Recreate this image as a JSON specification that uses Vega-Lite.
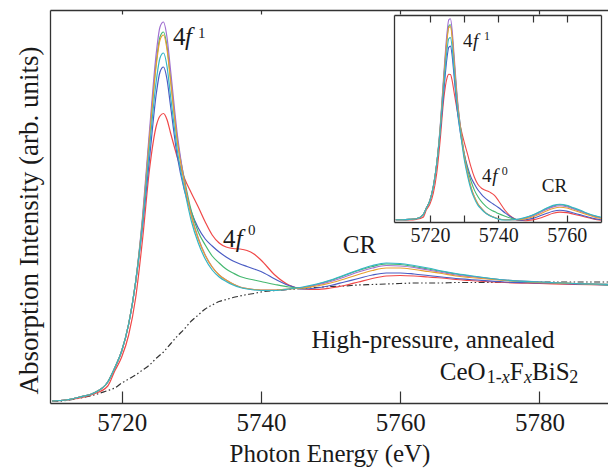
{
"$schema": "https://vega.github.io/schema/vega-lite/v6.json",
"width": 559, "height": 393,
"autosize": "none",
"padding": {"left": 50, "top": 10, "right": 0, "bottom": 65},
"background": "white",
"config": {
  "view": {"stroke": null},
  "font": "Liberation Serif",
  "axis": {"grid": false, "domainColor": "#333333", "domainWidth": 1.3, "tickColor": "#333333", "tickWidth": 1.2, "labelFont": "Liberation Serif", "titleFont": "Liberation Serif", "labelColor": "#1a1a1a", "titleColor": "#1a1a1a", "titleFontWeight": "normal", "labelFlush": false, "labelOverlap": false}
},
"datasets": {
"main": [
{"E":5710,"I":0.02,"s":"s6"},{"E":5712,"I":0.03,"s":"s6"},{"E":5714,"I":0.05,"s":"s6"},{"E":5716,"I":0.09,"s":"s6"},{"E":5718,"I":0.17,"s":"s6"},{"E":5719,"I":0.32,"s":"s6"},{"E":5720,"I":0.46,"s":"s6"},{"E":5721,"I":0.68,"s":"s6"},{"E":5722,"I":1.05,"s":"s6"},{"E":5723,"I":1.64,"s":"s6"},{"E":5724,"I":2.34,"s":"s6"},{"E":5725,"I":2.78,"s":"s6"},{"E":5725.5,"I":2.87,"s":"s6"},{"E":5726,"I":2.895,"s":"s6"},{"E":5726.5,"I":2.835,"s":"s6"},{"E":5727,"I":2.705,"s":"s6"},{"E":5728,"I":2.455,"s":"s6"},{"E":5729,"I":2.25,"s":"s6"},{"E":5730,"I":2.10,"s":"s6"},{"E":5731,"I":1.96,"s":"s6"},{"E":5732,"I":1.81,"s":"s6"},{"E":5733,"I":1.68,"s":"s6"},{"E":5734,"I":1.60,"s":"s6"},{"E":5735,"I":1.56,"s":"s6"},{"E":5736,"I":1.545,"s":"s6"},{"E":5737,"I":1.54,"s":"s6"},{"E":5738,"I":1.525,"s":"s6"},{"E":5739,"I":1.49,"s":"s6"},{"E":5740,"I":1.43,"s":"s6"},{"E":5742,"I":1.28,"s":"s6"},{"E":5744,"I":1.18,"s":"s6"},{"E":5746,"I":1.14,"s":"s6"},{"E":5748,"I":1.135,"s":"s6"},{"E":5750,"I":1.15,"s":"s6"},{"E":5752,"I":1.175,"s":"s6"},{"E":5754,"I":1.21,"s":"s6"},{"E":5756,"I":1.245,"s":"s6"},{"E":5758,"I":1.27,"s":"s6"},{"E":5760,"I":1.275,"s":"s6"},{"E":5762,"I":1.27,"s":"s6"},{"E":5764,"I":1.26,"s":"s6"},{"E":5766,"I":1.25,"s":"s6"},{"E":5768,"I":1.235,"s":"s6"},{"E":5770,"I":1.225,"s":"s6"},{"E":5775,"I":1.205,"s":"s6"},{"E":5780,"I":1.195,"s":"s6"},{"E":5785,"I":1.185,"s":"s6"},{"E":5790,"I":1.18,"s":"s6"},
{"E":5710,"I":0.02,"s":"s5"},{"E":5712,"I":0.03,"s":"s5"},{"E":5714,"I":0.06,"s":"s5"},{"E":5716,"I":0.10,"s":"s5"},{"E":5718,"I":0.21,"s":"s5"},{"E":5719,"I":0.35,"s":"s5"},{"E":5720,"I":0.52,"s":"s5"},{"E":5721,"I":0.79,"s":"s5"},{"E":5722,"I":1.21,"s":"s5"},{"E":5723,"I":1.77,"s":"s5"},{"E":5724,"I":2.45,"s":"s5"},{"E":5725,"I":3.11,"s":"s5"},{"E":5725.5,"I":3.31,"s":"s5"},{"E":5726,"I":3.36,"s":"s5"},{"E":5726.5,"I":3.24,"s":"s5"},{"E":5727,"I":2.98,"s":"s5"},{"E":5728,"I":2.46,"s":"s5"},{"E":5729,"I":2.13,"s":"s5"},{"E":5730,"I":1.91,"s":"s5"},{"E":5731,"I":1.75,"s":"s5"},{"E":5732,"I":1.64,"s":"s5"},{"E":5733,"I":1.57,"s":"s5"},{"E":5734,"I":1.51,"s":"s5"},{"E":5735,"I":1.46,"s":"s5"},{"E":5736,"I":1.42,"s":"s5"},{"E":5737,"I":1.39,"s":"s5"},{"E":5738,"I":1.365,"s":"s5"},{"E":5739,"I":1.34,"s":"s5"},{"E":5740,"I":1.315,"s":"s5"},{"E":5742,"I":1.24,"s":"s5"},{"E":5744,"I":1.175,"s":"s5"},{"E":5746,"I":1.14,"s":"s5"},{"E":5748,"I":1.15,"s":"s5"},{"E":5750,"I":1.175,"s":"s5"},{"E":5752,"I":1.21,"s":"s5"},{"E":5754,"I":1.245,"s":"s5"},{"E":5756,"I":1.28,"s":"s5"},{"E":5758,"I":1.30,"s":"s5"},{"E":5760,"I":1.30,"s":"s5"},{"E":5762,"I":1.29,"s":"s5"},{"E":5764,"I":1.275,"s":"s5"},{"E":5766,"I":1.26,"s":"s5"},{"E":5768,"I":1.245,"s":"s5"},{"E":5770,"I":1.235,"s":"s5"},{"E":5775,"I":1.21,"s":"s5"},{"E":5780,"I":1.20,"s":"s5"},{"E":5785,"I":1.19,"s":"s5"},{"E":5790,"I":1.18,"s":"s5"},
{"E":5710,"I":0.02,"s":"s3"},{"E":5712,"I":0.03,"s":"s3"},{"E":5714,"I":0.06,"s":"s3"},{"E":5716,"I":0.10,"s":"s3"},{"E":5718,"I":0.21,"s":"s3"},{"E":5719,"I":0.35,"s":"s3"},{"E":5720,"I":0.52,"s":"s3"},{"E":5721,"I":0.79,"s":"s3"},{"E":5722,"I":1.21,"s":"s3"},{"E":5723,"I":1.84,"s":"s3"},{"E":5724,"I":2.67,"s":"s3"},{"E":5725,"I":3.43,"s":"s3"},{"E":5725.5,"I":3.66,"s":"s3"},{"E":5726,"I":3.71,"s":"s3"},{"E":5726.5,"I":3.57,"s":"s3"},{"E":5727,"I":3.26,"s":"s3"},{"E":5728,"I":2.63,"s":"s3"},{"E":5729,"I":2.24,"s":"s3"},{"E":5730,"I":1.92,"s":"s3"},{"E":5731,"I":1.71,"s":"s3"},{"E":5732,"I":1.58,"s":"s3"},{"E":5733,"I":1.47,"s":"s3"},{"E":5734,"I":1.40,"s":"s3"},{"E":5735,"I":1.34,"s":"s3"},{"E":5736,"I":1.30,"s":"s3"},{"E":5737,"I":1.265,"s":"s3"},{"E":5738,"I":1.245,"s":"s3"},{"E":5739,"I":1.23,"s":"s3"},{"E":5740,"I":1.215,"s":"s3"},{"E":5742,"I":1.185,"s":"s3"},{"E":5744,"I":1.16,"s":"s3"},{"E":5746,"I":1.15,"s":"s3"},{"E":5748,"I":1.185,"s":"s3"},{"E":5750,"I":1.225,"s":"s3"},{"E":5752,"I":1.275,"s":"s3"},{"E":5754,"I":1.325,"s":"s3"},{"E":5756,"I":1.365,"s":"s3"},{"E":5758,"I":1.39,"s":"s3"},{"E":5760,"I":1.385,"s":"s3"},{"E":5762,"I":1.365,"s":"s3"},{"E":5764,"I":1.34,"s":"s3"},{"E":5766,"I":1.315,"s":"s3"},{"E":5768,"I":1.29,"s":"s3"},{"E":5770,"I":1.27,"s":"s3"},{"E":5775,"I":1.23,"s":"s3"},{"E":5780,"I":1.21,"s":"s3"},{"E":5785,"I":1.195,"s":"s3"},{"E":5790,"I":1.18,"s":"s3"},
{"E":5710,"I":0.02,"s":"s1"},{"E":5712,"I":0.03,"s":"s1"},{"E":5714,"I":0.06,"s":"s1"},{"E":5716,"I":0.10,"s":"s1"},{"E":5718,"I":0.21,"s":"s1"},{"E":5719,"I":0.35,"s":"s1"},{"E":5720,"I":0.52,"s":"s1"},{"E":5721,"I":0.79,"s":"s1"},{"E":5722,"I":1.21,"s":"s1"},{"E":5723,"I":1.87,"s":"s1"},{"E":5724,"I":2.73,"s":"s1"},{"E":5725,"I":3.52,"s":"s1"},{"E":5725.5,"I":3.76,"s":"s1"},{"E":5726,"I":3.81,"s":"s1"},{"E":5726.5,"I":3.66,"s":"s1"},{"E":5727,"I":3.34,"s":"s1"},{"E":5728,"I":2.68,"s":"s1"},{"E":5729,"I":2.22,"s":"s1"},{"E":5730,"I":1.88,"s":"s1"},{"E":5731,"I":1.65,"s":"s1"},{"E":5732,"I":1.48,"s":"s1"},{"E":5733,"I":1.36,"s":"s1"},{"E":5734,"I":1.28,"s":"s1"},{"E":5735,"I":1.23,"s":"s1"},{"E":5736,"I":1.19,"s":"s1"},{"E":5737,"I":1.16,"s":"s1"},{"E":5738,"I":1.145,"s":"s1"},{"E":5739,"I":1.135,"s":"s1"},{"E":5740,"I":1.13,"s":"s1"},{"E":5742,"I":1.13,"s":"s1"},{"E":5744,"I":1.14,"s":"s1"},{"E":5746,"I":1.155,"s":"s1"},{"E":5748,"I":1.18,"s":"s1"},{"E":5750,"I":1.215,"s":"s1"},{"E":5752,"I":1.26,"s":"s1"},{"E":5754,"I":1.31,"s":"s1"},{"E":5756,"I":1.35,"s":"s1"},{"E":5758,"I":1.375,"s":"s1"},{"E":5760,"I":1.37,"s":"s1"},{"E":5762,"I":1.355,"s":"s1"},{"E":5764,"I":1.33,"s":"s1"},{"E":5766,"I":1.305,"s":"s1"},{"E":5768,"I":1.28,"s":"s1"},{"E":5770,"I":1.265,"s":"s1"},{"E":5775,"I":1.23,"s":"s1"},{"E":5780,"I":1.21,"s":"s1"},{"E":5785,"I":1.195,"s":"s1"},{"E":5790,"I":1.185,"s":"s1"},
{"E":5710,"I":0.02,"s":"s2"},{"E":5712,"I":0.03,"s":"s2"},{"E":5714,"I":0.06,"s":"s2"},{"E":5716,"I":0.10,"s":"s2"},{"E":5718,"I":0.21,"s":"s2"},{"E":5719,"I":0.35,"s":"s2"},{"E":5720,"I":0.52,"s":"s2"},{"E":5721,"I":0.79,"s":"s2"},{"E":5722,"I":1.21,"s":"s2"},{"E":5723,"I":1.83,"s":"s2"},{"E":5724,"I":2.65,"s":"s2"},{"E":5725,"I":3.40,"s":"s2"},{"E":5725.5,"I":3.63,"s":"s2"},{"E":5726,"I":3.68,"s":"s2"},{"E":5726.5,"I":3.54,"s":"s2"},{"E":5727,"I":3.23,"s":"s2"},{"E":5728,"I":2.61,"s":"s2"},{"E":5729,"I":2.20,"s":"s2"},{"E":5730,"I":1.87,"s":"s2"},{"E":5731,"I":1.64,"s":"s2"},{"E":5732,"I":1.475,"s":"s2"},{"E":5733,"I":1.36,"s":"s2"},{"E":5734,"I":1.28,"s":"s2"},{"E":5735,"I":1.23,"s":"s2"},{"E":5736,"I":1.19,"s":"s2"},{"E":5737,"I":1.16,"s":"s2"},{"E":5738,"I":1.145,"s":"s2"},{"E":5739,"I":1.135,"s":"s2"},{"E":5740,"I":1.13,"s":"s2"},{"E":5742,"I":1.13,"s":"s2"},{"E":5744,"I":1.14,"s":"s2"},{"E":5746,"I":1.15,"s":"s2"},{"E":5748,"I":1.17,"s":"s2"},{"E":5750,"I":1.20,"s":"s2"},{"E":5752,"I":1.24,"s":"s2"},{"E":5754,"I":1.285,"s":"s2"},{"E":5756,"I":1.325,"s":"s2"},{"E":5758,"I":1.35,"s":"s2"},{"E":5760,"I":1.35,"s":"s2"},{"E":5762,"I":1.335,"s":"s2"},{"E":5764,"I":1.315,"s":"s2"},{"E":5766,"I":1.295,"s":"s2"},{"E":5768,"I":1.27,"s":"s2"},{"E":5770,"I":1.255,"s":"s2"},{"E":5775,"I":1.225,"s":"s2"},{"E":5780,"I":1.205,"s":"s2"},{"E":5785,"I":1.195,"s":"s2"},{"E":5790,"I":1.185,"s":"s2"},
{"E":5710,"I":0.02,"s":"s4"},{"E":5712,"I":0.03,"s":"s4"},{"E":5714,"I":0.06,"s":"s4"},{"E":5716,"I":0.10,"s":"s4"},{"E":5718,"I":0.21,"s":"s4"},{"E":5719,"I":0.35,"s":"s4"},{"E":5720,"I":0.52,"s":"s4"},{"E":5721,"I":0.79,"s":"s4"},{"E":5722,"I":1.21,"s":"s4"},{"E":5723,"I":1.80,"s":"s4"},{"E":5724,"I":2.55,"s":"s4"},{"E":5725,"I":3.24,"s":"s4"},{"E":5725.5,"I":3.45,"s":"s4"},{"E":5726,"I":3.50,"s":"s4"},{"E":5726.5,"I":3.37,"s":"s4"},{"E":5727,"I":3.08,"s":"s4"},{"E":5728,"I":2.52,"s":"s4"},{"E":5729,"I":2.14,"s":"s4"},{"E":5730,"I":1.82,"s":"s4"},{"E":5731,"I":1.60,"s":"s4"},{"E":5732,"I":1.44,"s":"s4"},{"E":5733,"I":1.33,"s":"s4"},{"E":5734,"I":1.26,"s":"s4"},{"E":5735,"I":1.215,"s":"s4"},{"E":5736,"I":1.18,"s":"s4"},{"E":5737,"I":1.155,"s":"s4"},{"E":5738,"I":1.14,"s":"s4"},{"E":5739,"I":1.13,"s":"s4"},{"E":5740,"I":1.125,"s":"s4"},{"E":5742,"I":1.125,"s":"s4"},{"E":5744,"I":1.14,"s":"s4"},{"E":5746,"I":1.16,"s":"s4"},{"E":5748,"I":1.19,"s":"s4"},{"E":5750,"I":1.23,"s":"s4"},{"E":5752,"I":1.28,"s":"s4"},{"E":5754,"I":1.33,"s":"s4"},{"E":5756,"I":1.375,"s":"s4"},{"E":5758,"I":1.40,"s":"s4"},{"E":5760,"I":1.395,"s":"s4"},{"E":5762,"I":1.375,"s":"s4"},{"E":5764,"I":1.35,"s":"s4"},{"E":5766,"I":1.32,"s":"s4"},{"E":5768,"I":1.295,"s":"s4"},{"E":5770,"I":1.275,"s":"s4"},{"E":5775,"I":1.23,"s":"s4"},{"E":5780,"I":1.21,"s":"s4"},{"E":5785,"I":1.195,"s":"s4"},{"E":5790,"I":1.185,"s":"s4"}
],
"step": [
{"E":5710,"I":0.015},{"E":5712,"I":0.025},{"E":5714,"I":0.05},{"E":5716,"I":0.08},{"E":5718,"I":0.125},{"E":5719,"I":0.15},{"E":5720,"I":0.20},{"E":5721,"I":0.24},{"E":5722,"I":0.28},{"E":5723,"I":0.33},{"E":5724,"I":0.38},{"E":5725,"I":0.45},{"E":5725.5,"I":0.48},{"E":5726,"I":0.51},{"E":5726.5,"I":0.55},{"E":5727,"I":0.59},{"E":5728,"I":0.67},{"E":5729,"I":0.74},{"E":5730,"I":0.82},{"E":5731,"I":0.88},{"E":5732,"I":0.94},{"E":5733,"I":0.98},{"E":5734,"I":1.015},{"E":5735,"I":1.035},{"E":5736,"I":1.055},{"E":5737,"I":1.07},{"E":5738,"I":1.085},{"E":5739,"I":1.095},{"E":5740,"I":1.11},{"E":5742,"I":1.125},{"E":5744,"I":1.135},{"E":5746,"I":1.145},{"E":5748,"I":1.155},{"E":5750,"I":1.165},{"E":5752,"I":1.17},{"E":5754,"I":1.18},{"E":5756,"I":1.185},{"E":5758,"I":1.19},{"E":5760,"I":1.195},{"E":5762,"I":1.20},{"E":5764,"I":1.20},{"E":5766,"I":1.20},{"E":5768,"I":1.205},{"E":5770,"I":1.205},{"E":5775,"I":1.205},{"E":5780,"I":1.21},{"E":5785,"I":1.21},{"E":5790,"I":1.21}
],
"inset": [
{"E":5710,"V":0.003,"s":"s6"},{"E":5712,"V":0.003,"s":"s6"},{"E":5714,"V":0.0,"s":"s6"},{"E":5716,"V":0.006,"s":"s6"},{"E":5718,"V":0.027,"s":"s6"},{"E":5719,"V":0.104,"s":"s6"},{"E":5720,"V":0.159,"s":"s6"},{"E":5721,"V":0.268,"s":"s6"},{"E":5722,"V":0.47,"s":"s6"},{"E":5723,"V":0.799,"s":"s6"},{"E":5724,"V":1.196,"s":"s6"},{"E":5725,"V":1.421,"s":"s6"},{"E":5725.5,"V":1.458,"s":"s6"},{"E":5726,"V":1.455,"s":"s6"},{"E":5726.5,"V":1.394,"s":"s6"},{"E":5727,"V":1.29,"s":"s6"},{"E":5728,"V":1.089,"s":"s6"},{"E":5729,"V":0.921,"s":"s6"},{"E":5730,"V":0.781,"s":"s6"},{"E":5731,"V":0.659,"s":"s6"},{"E":5732,"V":0.531,"s":"s6"},{"E":5733,"V":0.427,"s":"s6"},{"E":5734,"V":0.357,"s":"s6"},{"E":5735,"V":0.32,"s":"s6"},{"E":5736,"V":0.299,"s":"s6"},{"E":5737,"V":0.287,"s":"s6"},{"E":5738,"V":0.268,"s":"s6"},{"E":5739,"V":0.241,"s":"s6"},{"E":5740,"V":0.195,"s":"s6"},{"E":5742,"V":0.095,"s":"s6"},{"E":5744,"V":0.027,"s":"s6"},{"E":5746,"V":-0.003,"s":"s6"},{"E":5748,"V":-0.007,"s":"s6"},{"E":5750,"V":0.001,"s":"s6"},{"E":5752,"V":0.018,"s":"s6"},{"E":5754,"V":0.043,"s":"s6"},{"E":5756,"V":0.067,"s":"s6"},{"E":5758,"V":0.079,"s":"s6"},{"E":5760,"V":0.074,"s":"s6"},{"E":5762,"V":0.058,"s":"s6"},{"E":5764,"V":0.042,"s":"s6"},{"E":5766,"V":0.025,"s":"s6"},{"E":5768,"V":0.008,"s":"s6"},{"E":5770,"V":-0.003,"s":"s6"},
{"E":5710,"V":0.003,"s":"s5"},{"E":5712,"V":0.003,"s":"s5"},{"E":5714,"V":0.006,"s":"s5"},{"E":5716,"V":0.012,"s":"s5"},{"E":5718,"V":0.052,"s":"s5"},{"E":5719,"V":0.122,"s":"s5"},{"E":5720,"V":0.195,"s":"s5"},{"E":5721,"V":0.336,"s":"s5"},{"E":5722,"V":0.567,"s":"s5"},{"E":5723,"V":0.878,"s":"s5"},{"E":5724,"V":1.263,"s":"s5"},{"E":5725,"V":1.623,"s":"s5"},{"E":5725.5,"V":1.726,"s":"s5"},{"E":5726,"V":1.739,"s":"s5"},{"E":5726.5,"V":1.641,"s":"s5"},{"E":5727,"V":1.458,"s":"s5"},{"E":5728,"V":1.092,"s":"s5"},{"E":5729,"V":0.848,"s":"s5"},{"E":5730,"V":0.665,"s":"s5"},{"E":5731,"V":0.531,"s":"s5"},{"E":5732,"V":0.427,"s":"s5"},{"E":5733,"V":0.36,"s":"s5"},{"E":5734,"V":0.302,"s":"s5"},{"E":5735,"V":0.259,"s":"s5"},{"E":5736,"V":0.223,"s":"s5"},{"E":5737,"V":0.195,"s":"s5"},{"E":5738,"V":0.171,"s":"s5"},{"E":5739,"V":0.149,"s":"s5"},{"E":5740,"V":0.125,"s":"s5"},{"E":5742,"V":0.07,"s":"s5"},{"E":5744,"V":0.024,"s":"s5"},{"E":5746,"V":-0.003,"s":"s5"},{"E":5748,"V":0.002,"s":"s5"},{"E":5750,"V":0.016,"s":"s5"},{"E":5752,"V":0.039,"s":"s5"},{"E":5754,"V":0.065,"s":"s5"},{"E":5756,"V":0.088,"s":"s5"},{"E":5758,"V":0.097,"s":"s5"},{"E":5760,"V":0.089,"s":"s5"},{"E":5762,"V":0.07,"s":"s5"},{"E":5764,"V":0.051,"s":"s5"},{"E":5766,"V":0.032,"s":"s5"},{"E":5768,"V":0.014,"s":"s5"},{"E":5770,"V":0.003,"s":"s5"},
{"E":5710,"V":0.003,"s":"s3"},{"E":5712,"V":0.003,"s":"s3"},{"E":5714,"V":0.006,"s":"s3"},{"E":5716,"V":0.012,"s":"s3"},{"E":5718,"V":0.052,"s":"s3"},{"E":5719,"V":0.122,"s":"s3"},{"E":5720,"V":0.195,"s":"s3"},{"E":5721,"V":0.336,"s":"s3"},{"E":5722,"V":0.567,"s":"s3"},{"E":5723,"V":0.921,"s":"s3"},{"E":5724,"V":1.397,"s":"s3"},{"E":5725,"V":1.818,"s":"s3"},{"E":5725.5,"V":1.94,"s":"s3"},{"E":5726,"V":1.952,"s":"s3"},{"E":5726.5,"V":1.842,"s":"s3"},{"E":5727,"V":1.629,"s":"s3"},{"E":5728,"V":1.196,"s":"s3"},{"E":5729,"V":0.915,"s":"s3"},{"E":5730,"V":0.671,"s":"s3"},{"E":5731,"V":0.506,"s":"s3"},{"E":5732,"V":0.39,"s":"s3"},{"E":5733,"V":0.299,"s":"s3"},{"E":5734,"V":0.235,"s":"s3"},{"E":5735,"V":0.186,"s":"s3"},{"E":5736,"V":0.149,"s":"s3"},{"E":5737,"V":0.119,"s":"s3"},{"E":5738,"V":0.098,"s":"s3"},{"E":5739,"V":0.082,"s":"s3"},{"E":5740,"V":0.064,"s":"s3"},{"E":5742,"V":0.037,"s":"s3"},{"E":5744,"V":0.015,"s":"s3"},{"E":5746,"V":0.003,"s":"s3"},{"E":5748,"V":0.023,"s":"s3"},{"E":5750,"V":0.047,"s":"s3"},{"E":5752,"V":0.079,"s":"s3"},{"E":5754,"V":0.113,"s":"s3"},{"E":5756,"V":0.14,"s":"s3"},{"E":5758,"V":0.152,"s":"s3"},{"E":5760,"V":0.141,"s":"s3"},{"E":5762,"V":0.116,"s":"s3"},{"E":5764,"V":0.09,"s":"s3"},{"E":5766,"V":0.065,"s":"s3"},{"E":5768,"V":0.042,"s":"s3"},{"E":5770,"V":0.025,"s":"s3"},
{"E":5710,"V":0.003,"s":"s1"},{"E":5712,"V":0.003,"s":"s1"},{"E":5714,"V":0.006,"s":"s1"},{"E":5716,"V":0.012,"s":"s1"},{"E":5718,"V":0.052,"s":"s1"},{"E":5719,"V":0.122,"s":"s1"},{"E":5720,"V":0.195,"s":"s1"},{"E":5721,"V":0.336,"s":"s1"},{"E":5722,"V":0.567,"s":"s1"},{"E":5723,"V":0.939,"s":"s1"},{"E":5724,"V":1.434,"s":"s1"},{"E":5725,"V":1.873,"s":"s1"},{"E":5725.5,"V":2.001,"s":"s1"},{"E":5726,"V":2.013,"s":"s1"},{"E":5726.5,"V":1.897,"s":"s1"},{"E":5727,"V":1.677,"s":"s1"},{"E":5728,"V":1.226,"s":"s1"},{"E":5729,"V":0.903,"s":"s1"},{"E":5730,"V":0.647,"s":"s1"},{"E":5731,"V":0.47,"s":"s1"},{"E":5732,"V":0.329,"s":"s1"},{"E":5733,"V":0.232,"s":"s1"},{"E":5734,"V":0.162,"s":"s1"},{"E":5735,"V":0.119,"s":"s1"},{"E":5736,"V":0.082,"s":"s1"},{"E":5737,"V":0.055,"s":"s1"},{"E":5738,"V":0.037,"s":"s1"},{"E":5739,"V":0.024,"s":"s1"},{"E":5740,"V":0.012,"s":"s1"},{"E":5742,"V":0.003,"s":"s1"},{"E":5744,"V":0.003,"s":"s1"},{"E":5746,"V":0.006,"s":"s1"},{"E":5748,"V":0.02,"s":"s1"},{"E":5750,"V":0.041,"s":"s1"},{"E":5752,"V":0.07,"s":"s1"},{"E":5754,"V":0.104,"s":"s1"},{"E":5756,"V":0.131,"s":"s1"},{"E":5758,"V":0.143,"s":"s1"},{"E":5760,"V":0.132,"s":"s1"},{"E":5762,"V":0.11,"s":"s1"},{"E":5764,"V":0.084,"s":"s1"},{"E":5766,"V":0.059,"s":"s1"},{"E":5768,"V":0.036,"s":"s1"},{"E":5770,"V":0.022,"s":"s1"},
{"E":5710,"V":0.003,"s":"s2"},{"E":5712,"V":0.003,"s":"s2"},{"E":5714,"V":0.006,"s":"s2"},{"E":5716,"V":0.012,"s":"s2"},{"E":5718,"V":0.052,"s":"s2"},{"E":5719,"V":0.122,"s":"s2"},{"E":5720,"V":0.195,"s":"s2"},{"E":5721,"V":0.336,"s":"s2"},{"E":5722,"V":0.567,"s":"s2"},{"E":5723,"V":0.915,"s":"s2"},{"E":5724,"V":1.385,"s":"s2"},{"E":5725,"V":1.80,"s":"s2"},{"E":5725.5,"V":1.922,"s":"s2"},{"E":5726,"V":1.934,"s":"s2"},{"E":5726.5,"V":1.824,"s":"s2"},{"E":5727,"V":1.61,"s":"s2"},{"E":5728,"V":1.183,"s":"s2"},{"E":5729,"V":0.891,"s":"s2"},{"E":5730,"V":0.64,"s":"s2"},{"E":5731,"V":0.464,"s":"s2"},{"E":5732,"V":0.326,"s":"s2"},{"E":5733,"V":0.232,"s":"s2"},{"E":5734,"V":0.162,"s":"s2"},{"E":5735,"V":0.119,"s":"s2"},{"E":5736,"V":0.082,"s":"s2"},{"E":5737,"V":0.055,"s":"s2"},{"E":5738,"V":0.037,"s":"s2"},{"E":5739,"V":0.024,"s":"s2"},{"E":5740,"V":0.012,"s":"s2"},{"E":5742,"V":0.003,"s":"s2"},{"E":5744,"V":0.003,"s":"s2"},{"E":5746,"V":0.003,"s":"s2"},{"E":5748,"V":0.014,"s":"s2"},{"E":5750,"V":0.031,"s":"s2"},{"E":5752,"V":0.058,"s":"s2"},{"E":5754,"V":0.089,"s":"s2"},{"E":5756,"V":0.115,"s":"s2"},{"E":5758,"V":0.128,"s":"s2"},{"E":5760,"V":0.12,"s":"s2"},{"E":5762,"V":0.097,"s":"s2"},{"E":5764,"V":0.075,"s":"s2"},{"E":5766,"V":0.053,"s":"s2"},{"E":5768,"V":0.03,"s":"s2"},{"E":5770,"V":0.015,"s":"s2"},
{"E":5710,"V":0.003,"s":"s4"},{"E":5712,"V":0.003,"s":"s4"},{"E":5714,"V":0.006,"s":"s4"},{"E":5716,"V":0.012,"s":"s4"},{"E":5718,"V":0.052,"s":"s4"},{"E":5719,"V":0.122,"s":"s4"},{"E":5720,"V":0.195,"s":"s4"},{"E":5721,"V":0.336,"s":"s4"},{"E":5722,"V":0.567,"s":"s4"},{"E":5723,"V":0.897,"s":"s4"},{"E":5724,"V":1.324,"s":"s4"},{"E":5725,"V":1.702,"s":"s4"},{"E":5725.5,"V":1.812,"s":"s4"},{"E":5726,"V":1.824,"s":"s4"},{"E":5726.5,"V":1.72,"s":"s4"},{"E":5727,"V":1.519,"s":"s4"},{"E":5728,"V":1.129,"s":"s4"},{"E":5729,"V":0.854,"s":"s4"},{"E":5730,"V":0.61,"s":"s4"},{"E":5731,"V":0.439,"s":"s4"},{"E":5732,"V":0.305,"s":"s4"},{"E":5733,"V":0.214,"s":"s4"},{"E":5734,"V":0.149,"s":"s4"},{"E":5735,"V":0.11,"s":"s4"},{"E":5736,"V":0.076,"s":"s4"},{"E":5737,"V":0.052,"s":"s4"},{"E":5738,"V":0.034,"s":"s4"},{"E":5739,"V":0.021,"s":"s4"},{"E":5740,"V":0.009,"s":"s4"},{"E":5742,"V":0.0,"s":"s4"},{"E":5744,"V":0.003,"s":"s4"},{"E":5746,"V":0.009,"s":"s4"},{"E":5748,"V":0.026,"s":"s4"},{"E":5750,"V":0.05,"s":"s4"},{"E":5752,"V":0.082,"s":"s4"},{"E":5754,"V":0.117,"s":"s4"},{"E":5756,"V":0.146,"s":"s4"},{"E":5758,"V":0.158,"s":"s4"},{"E":5760,"V":0.147,"s":"s4"},{"E":5762,"V":0.122,"s":"s4"},{"E":5764,"V":0.097,"s":"s4"},{"E":5766,"V":0.068,"s":"s4"},{"E":5768,"V":0.045,"s":"s4"},{"E":5770,"V":0.028,"s":"s4"}
]
},
"layer": [
{
  "layer": [
    {
      "data": {"name": "step"},
      "mark": {"type": "line", "color": "#333333", "strokeWidth": 1.2, "strokeDash": [6, 2.5, 1.5, 2.5, 1.5, 2.5], "interpolate": "monotone"},
      "encoding": {
        "x": {"field": "E", "type": "quantitative", "scale": {"domain": [5709.7, 5790], "nice": false, "zero": false},
              "axis": {"orient": "top", "values": [5720, 5740, 5760, 5780], "tickSize": -4, "labels": false, "title": null}},
        "y": {"field": "I", "type": "quantitative", "scale": {"domain": [0, 3.93], "nice": false, "zero": false},
              "axis": {"orient": "left", "ticks": false, "labels": false, "title": "Absorption Intensity (arb. units)", "titleFont": "Liberation Serif", "titleFontWeight": "normal", "titleFontSize": 27, "titlePadding": 7, "titleY": 210}}
      }
    },
    {
      "data": {"name": "main"},
      "mark": {"type": "line", "strokeWidth": 1.2, "interpolate": "monotone", "clip": true},
      "encoding": {
        "x": {"field": "E", "type": "quantitative", "scale": {"domain": [5709.7, 5790], "nice": false, "zero": false},
              "axis": {"orient": "bottom", "values": [5720, 5740, 5760, 5780], "format": "d", "tickSize": -12, "labelPadding": 19, "labelFont": "Liberation Serif", "labelFontSize": 25, "title": "Photon Energy (eV)", "titleFont": "Liberation Serif", "titleFontWeight": "normal", "titleFontSize": 25, "titlePadding": 6}},
        "y": {"field": "I", "type": "quantitative", "scale": {"domain": [0, 3.93], "nice": false, "zero": false}, "axis": null},
        "color": {"field": "s", "type": "nominal", "legend": null,
                  "scale": {"domain": ["s1", "s2", "s3", "s4", "s5", "s6"], "range": ["#a070d0", "#e8a030", "#45b870", "#35b5c5", "#4a5cc4", "#f04848"]}}
      }
    },
    {
      "data": {"values": [{"E":5727.36,"I":3.58,"t":"4"},{"E":5734.54,"I":1.56,"t":"4"},{"E":5751.77,"I":1.50,"t":"CR"},{"E":5747.27,"I":0.547,"t":"High-pressure, annealed"},{"E":5765.7,"I":0.23,"t":"CeO"},{"E":5775.75,"I":0.23,"t":"F"},{"E":5778.94,"I":0.23,"t":"BiS"}]},
      "mark": {"type": "text", "align": "left", "baseline": "alphabetic", "font": "Liberation Serif", "fontSize": 25, "color": "#1a1a1a"},
      "encoding": {
        "x": {"field": "E", "type": "quantitative", "scale": {"domain": [5709.7, 5790], "nice": false, "zero": false}, "axis": null},
        "y": {"field": "I", "type": "quantitative", "scale": {"domain": [0, 3.93], "nice": false, "zero": false}, "axis": null},
        "text": {"field": "t"}
      }
    },
    {
      "data": {"values": [{"E":5729.08,"I":3.58,"t":"f"},{"E":5736.4,"I":1.56,"t":"f"}]},
      "mark": {"type": "text", "align": "left", "baseline": "alphabetic", "font": "Liberation Serif", "fontStyle": "italic", "fontSize": 25, "color": "#1a1a1a"},
      "encoding": {
        "x": {"field": "E", "type": "quantitative", "scale": {"domain": [5709.7, 5790], "nice": false, "zero": false}, "axis": null},
        "y": {"field": "I", "type": "quantitative", "scale": {"domain": [0, 3.93], "nice": false, "zero": false}, "axis": null},
        "text": {"field": "t"}
      }
    },
    {
      "data": {"values": [{"E":5730.95,"I":3.65,"t":"1"},{"E":5738.13,"I":1.68,"t":"0"}]},
      "mark": {"type": "text", "align": "left", "baseline": "alphabetic", "font": "Liberation Serif", "fontSize": 15, "color": "#1a1a1a"},
      "encoding": {
        "x": {"field": "E", "type": "quantitative", "scale": {"domain": [5709.7, 5790], "nice": false, "zero": false}, "axis": null},
        "y": {"field": "I", "type": "quantitative", "scale": {"domain": [0, 3.93], "nice": false, "zero": false}, "axis": null},
        "text": {"field": "t"}
      }
    },
    {
      "data": {"values": [{"E":5772.44,"I":0.20,"t":"1-"},{"E":5784.3,"I":0.20,"t":"2"}]},
      "mark": {"type": "text", "align": "left", "baseline": "alphabetic", "font": "Liberation Serif", "fontSize": 18, "color": "#1a1a1a"},
      "encoding": {
        "x": {"field": "E", "type": "quantitative", "scale": {"domain": [5709.7, 5790], "nice": false, "zero": false}, "axis": null},
        "y": {"field": "I", "type": "quantitative", "scale": {"domain": [0, 3.93], "nice": false, "zero": false}, "axis": null},
        "text": {"field": "t"}
      }
    },
    {
      "data": {"values": [{"E":5774.6,"I":0.20,"t":"x"},{"E":5777.8,"I":0.20,"t":"x"}]},
      "mark": {"type": "text", "align": "left", "baseline": "alphabetic", "font": "Liberation Serif", "fontStyle": "italic", "fontSize": 18, "color": "#1a1a1a"},
      "encoding": {
        "x": {"field": "E", "type": "quantitative", "scale": {"domain": [5709.7, 5790], "nice": false, "zero": false}, "axis": null},
        "y": {"field": "I", "type": "quantitative", "scale": {"domain": [0, 3.93], "nice": false, "zero": false}, "axis": null},
        "text": {"field": "t"}
      }
    }
  ],
  "resolve": {"axis": {"x": "independent", "y": "independent"}}
},
{
  "layer": [
    {
      "data": {"name": "inset"},
      "mark": {"type": "line", "strokeWidth": 1.1, "interpolate": "monotone"},
      "encoding": {
        "x": {"field": "E", "type": "quantitative", "scale": {"domain": [5709.5, 5770], "range": [344, 551], "nice": false, "zero": false},
              "axis": {"orient": "bottom", "offset": -181, "values": [5720, 5730, 5740, 5750, 5760], "format": "d", "tickSize": -7, "labelPadding": 10, "labelFont": "Liberation Serif", "labelFontSize": 20, "labelExpr": "datum.value % 20 === 0 ? datum.label : ''", "title": null}},
        "y": {"field": "V", "type": "quantitative", "scale": {"domain": [-0.02, 2.05], "range": [212, 5], "nice": false, "zero": false},
              "axis": {"orient": "left", "offset": -344, "ticks": false, "labels": false, "title": null}},
        "color": {"field": "s", "type": "nominal", "legend": null,
                  "scale": {"domain": ["s1", "s2", "s3", "s4", "s5", "s6"], "range": ["#a070d0", "#e8a030", "#45b870", "#35b5c5", "#4a5cc4", "#f04848"]}}
      }
    },
    {
      "data": {"values": [{"E":5729.7,"V":1.73,"t":"4"},{"E":5735.2,"V":0.38,"t":"4"},{"E":5752.7,"V":0.28,"t":"CR"}]},
      "mark": {"type": "text", "align": "left", "baseline": "alphabetic", "font": "Liberation Serif", "fontSize": 19, "color": "#1a1a1a"},
      "encoding": {
        "x": {"field": "E", "type": "quantitative", "scale": {"domain": [5709.5, 5770], "range": [344, 551], "nice": false, "zero": false},
              "axis": {"orient": "top", "offset": -5, "values": [5720, 5730, 5740, 5750, 5760], "tickSize": -7, "labels": false, "title": null}},
        "y": {"field": "V", "type": "quantitative", "scale": {"domain": [-0.02, 2.05], "range": [212, 5], "nice": false, "zero": false},
              "axis": {"orient": "right", "offset": -8, "ticks": false, "labels": false, "title": null}},
        "text": {"field": "t"}
      }
    },
    {
      "data": {"values": [{"E":5732.6,"V":1.73,"t":"f"},{"E":5738.2,"V":0.38,"t":"f"}]},
      "mark": {"type": "text", "align": "left", "baseline": "alphabetic", "font": "Liberation Serif", "fontStyle": "italic", "fontSize": 19, "color": "#1a1a1a"},
      "encoding": {
        "x": {"field": "E", "type": "quantitative", "scale": {"domain": [5709.5, 5770], "range": [344, 551], "nice": false, "zero": false}, "axis": null},
        "y": {"field": "V", "type": "quantitative", "scale": {"domain": [-0.02, 2.05], "range": [212, 5], "nice": false, "zero": false}, "axis": null},
        "text": {"field": "t"}
      }
    },
    {
      "data": {"values": [{"E":5735.8,"V":1.80,"t":"1"},{"E":5741.0,"V":0.45,"t":"0"}]},
      "mark": {"type": "text", "align": "left", "baseline": "alphabetic", "font": "Liberation Serif", "fontSize": 12, "color": "#1a1a1a"},
      "encoding": {
        "x": {"field": "E", "type": "quantitative", "scale": {"domain": [5709.5, 5770], "range": [344, 551], "nice": false, "zero": false}, "axis": null},
        "y": {"field": "V", "type": "quantitative", "scale": {"domain": [-0.02, 2.05], "range": [212, 5], "nice": false, "zero": false}, "axis": null},
        "text": {"field": "t"}
      }
    }
  ],
  "resolve": {"axis": {"x": "independent", "y": "independent"}}
}
],
"resolve": {"scale": {"x": "independent", "y": "independent"}, "axis": {"x": "independent", "y": "independent"}}
}
